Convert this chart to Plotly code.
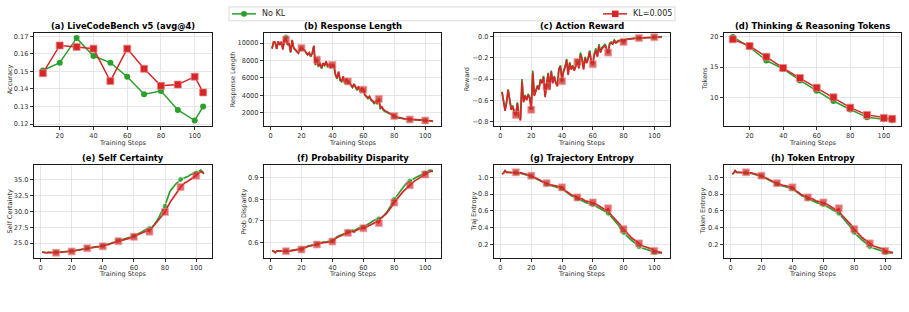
import plotly.graph_objects as go

W, H = 909, 312
GREEN = "#2ca02c"
RED = "#d62728"
FONT = "DejaVu Sans"

# ---------------- data ----------------
eval_steps = [10, 20, 30, 40, 50, 60, 70, 80, 90, 100, 105]
lcb_nokl = [0.1505, 0.155, 0.169, 0.1588, 0.155, 0.147, 0.137, 0.1388, 0.128, 0.122, 0.130]
lcb_kl = [0.149, 0.1648, 0.164, 0.163, 0.1445, 0.163, 0.1515, 0.1418, 0.1425, 0.147, 0.138]
tok_nokl = [20.0, 18.3, 16.1, 14.7, 12.8, 11.1, 9.4, 8.0, 6.7, 6.4, 6.2]
tok_kl = [19.6, 18.5, 16.7, 14.85, 13.2, 11.6, 10.0, 8.3, 7.1, 6.6, 6.45]

steps = list(range(1, 106))

resp_kl = [
    9350, 10150, 10100, 9300, 10200, 9800, 10150, 9250, 10450, 10400,
    9800, 10000, 8950, 10350, 9450, 9250, 9050, 8870, 9250, 9430,
    9300, 9200, 8900, 8680, 8900, 8480, 8850, 9700, 7550, 8100,
    7350, 7750, 7150, 7700, 7500, 7900, 7300, 7650, 7150, 7500,
    7450, 6400, 6000, 6750, 5800, 5650, 6200, 5450, 5950, 5600,
    5450, 5250, 4980, 5300, 4880, 4680, 5050, 4500, 4850, 4650,
    4100, 3900, 3720, 3900, 3530, 3400, 3150, 3350, 3080, 3600,
    2580, 2700, 2380, 2250, 2150, 2000, 1950, 1850, 1700, 1620,
    1550, 1500, 1430, 1420, 1380, 1340, 1330, 1250, 1260, 1240,
    1220, 1200, 1230, 1180, 1200, 1170, 1190, 1150, 1160, 1120,
    1130, 1150, 1100, 1080, 1000]
resp_nokl = [
    9400, 10100, 10050, 9350, 10150, 9850, 10100, 9300, 10400, 10700,
    9750, 9950, 8900, 10300, 9400, 9200, 9000, 8820, 9200, 9380,
    9250, 9150, 8850, 8630, 8850, 8430, 8800, 9650, 7450, 8000,
    7250, 7650, 7050, 7600, 7400, 7800, 7200, 7550, 7050, 7400,
    7350, 6300, 5900, 6650, 5700, 5550, 6100, 5350, 5850, 5500,
    5350, 5150, 4880, 5200, 4780, 4580, 4950, 4400, 4750, 4550,
    4000, 3800, 3620, 3800, 3430, 3300, 3050, 3250, 2980, 3400,
    2480, 2600, 2280, 2150, 2080, 1950, 1900, 1800, 1650, 1580,
    1520, 1470, 1400, 1400, 1360, 1320, 1310, 1240, 1250, 1230,
    1210, 1190, 1220, 1170, 1190, 1160, 1180, 1140, 1150, 1110,
    1120, 1140, 1090, 1070, 1000]

reward_kl = [
    -0.52, -0.60, -0.70, -0.62, -0.50, -0.60, -0.69, -0.66, -0.72, -0.74,
    -0.63, -0.75, -0.79, -0.42, -0.62, -0.56, -0.60, -0.55, -0.58, -0.69,
    -0.34, -0.56, -0.50, -0.47, -0.50, -0.41, -0.44, -0.38, -0.57, -0.47,
    -0.35, -0.50, -0.33, -0.44, -0.38, -0.44, -0.47, -0.31, -0.28, -0.42,
    -0.33, -0.29, -0.22, -0.36, -0.25, -0.31, -0.28, -0.32, -0.27, -0.24,
    -0.30, -0.17, -0.22, -0.31, -0.20, -0.25, -0.21, -0.14, -0.24, -0.26,
    -0.17, -0.13, -0.19, -0.09, -0.15, -0.11, -0.10, -0.08, -0.12, -0.15,
    -0.07, -0.06, -0.07, -0.04, -0.06, -0.05, -0.04, -0.04, -0.03, -0.05,
    -0.03, -0.025, -0.022, -0.02, -0.02, -0.018, -0.016, -0.015, -0.014, -0.013,
    -0.012, -0.011, -0.010, -0.010, -0.009, -0.008, -0.008, -0.007, -0.006, -0.005,
    -0.005, -0.004, -0.004, -0.003, -0.003]
reward_nokl = [
    -0.52, -0.60, -0.69, -0.61, -0.50, -0.59, -0.68, -0.65, -0.71, -0.73,
    -0.62, -0.74, -0.78, -0.40, -0.61, -0.55, -0.59, -0.54, -0.57, -0.67,
    -0.32, -0.55, -0.49, -0.46, -0.49, -0.40, -0.43, -0.37, -0.56, -0.46,
    -0.34, -0.49, -0.32, -0.43, -0.37, -0.43, -0.46, -0.30, -0.27, -0.41,
    -0.32, -0.28, -0.21, -0.35, -0.24, -0.30, -0.27, -0.31, -0.26, -0.23,
    -0.29, -0.15, -0.20, -0.30, -0.19, -0.24, -0.20, -0.13, -0.23, -0.25,
    -0.16, -0.11, -0.18, -0.07, -0.14, -0.10, -0.09, -0.07, -0.11, -0.14,
    -0.06, -0.05, -0.06, -0.03, -0.05, -0.04, -0.035, -0.035, -0.025, -0.045,
    -0.025, -0.022, -0.02, -0.018, -0.018, -0.016, -0.015, -0.014, -0.013, -0.012,
    -0.011, -0.010, -0.009, -0.009, -0.008, -0.007, -0.007, -0.006, -0.005, -0.004,
    -0.004, -0.003, -0.003, -0.003, -0.002]

cert_kl = [
    23.60, 23.55, 23.45, 23.50, 23.55, 23.50, 23.50, 23.55, 23.50, 23.50,
    23.55, 23.55, 23.60, 23.60, 23.60, 23.65, 23.65, 23.70, 23.70, 23.70,
    23.75, 23.80, 23.85, 23.90, 23.95, 24.00, 24.05, 24.10, 24.15, 24.20,
    24.25, 24.25, 24.30, 24.30, 24.35, 24.40, 24.40, 24.45, 24.50, 24.50,
    24.60, 24.70, 24.75, 24.80, 24.90, 24.95, 25.05, 25.15, 25.25, 25.30,
    25.40, 25.45, 25.50, 25.55, 25.60, 25.70, 25.75, 25.85, 25.95, 26.00,
    26.10, 26.20, 26.30, 26.40, 26.50, 26.60, 26.70, 26.85, 27.00, 26.80,
    27.30, 27.50, 27.80, 28.05, 28.30, 28.60, 28.90, 29.20, 29.50, 29.90,
    30.40, 30.90, 31.30, 31.70, 32.00, 32.40, 32.80, 33.20, 33.50, 33.80,
    34.10, 34.35, 34.50, 34.60, 34.80, 35.00, 35.20, 35.30, 35.45, 35.60,
    35.80, 36.00, 36.25, 36.10, 35.85]
cert_nokl = [
    23.60, 23.55, 23.50, 23.50, 23.55, 23.55, 23.50, 23.55, 23.55, 23.55,
    23.55, 23.60, 23.60, 23.65, 23.65, 23.70, 23.70, 23.70, 23.75, 23.75,
    23.80, 23.85, 23.90, 23.95, 24.00, 24.05, 24.10, 24.15, 24.20, 24.25,
    24.30, 24.30, 24.35, 24.35, 24.40, 24.45, 24.45, 24.50, 24.55, 24.60,
    24.65, 24.75, 24.80, 24.90, 24.95, 25.05, 25.15, 25.25, 25.35, 25.45,
    25.50, 25.55, 25.60, 25.65, 25.70, 25.80, 25.85, 25.95, 26.05, 26.15,
    26.25, 26.35, 26.50, 26.60, 26.75, 26.90, 27.05, 27.20, 27.30, 27.30,
    27.45, 27.60, 27.90, 28.20, 28.60, 29.00, 29.60, 30.00, 30.30, 30.80,
    31.60, 32.40, 33.00, 33.40, 33.80, 34.00, 34.30, 34.50, 34.80, 35.00,
    35.10, 35.20, 35.30, 35.30, 35.50, 35.70, 35.80, 35.90, 36.00, 36.00,
    36.20, 36.30, 36.45, 36.20, 36.00]

disp_kl = [
    0.563, 0.560, 0.553, 0.560, 0.561, 0.560, 0.559, 0.560, 0.559, 0.560,
    0.559, 0.560, 0.562, 0.563, 0.564, 0.565, 0.566, 0.567, 0.567, 0.568,
    0.572, 0.575, 0.579, 0.582, 0.584, 0.585, 0.586, 0.588, 0.590, 0.591,
    0.594, 0.597, 0.599, 0.600, 0.600, 0.601, 0.601, 0.602, 0.604, 0.605,
    0.612, 0.620, 0.624, 0.627, 0.630, 0.634, 0.638, 0.641, 0.643, 0.645,
    0.648, 0.651, 0.652, 0.648, 0.655, 0.660, 0.662, 0.664, 0.665, 0.666,
    0.668, 0.672, 0.676, 0.680, 0.684, 0.688, 0.692, 0.695, 0.698, 0.690,
    0.712, 0.718, 0.722, 0.728, 0.735, 0.744, 0.752, 0.762, 0.772, 0.785,
    0.795, 0.805, 0.815, 0.823, 0.830, 0.838, 0.845, 0.852, 0.858, 0.865,
    0.872, 0.878, 0.884, 0.889, 0.894, 0.898, 0.902, 0.906, 0.910, 0.915,
    0.920, 0.925, 0.928, 0.930, 0.930]
disp_nokl = [
    0.563, 0.561, 0.555, 0.561, 0.562, 0.561, 0.560, 0.561, 0.560, 0.561,
    0.560, 0.561, 0.563, 0.564, 0.565, 0.566, 0.567, 0.568, 0.568, 0.569,
    0.573, 0.577, 0.581, 0.584, 0.586, 0.587, 0.588, 0.590, 0.592, 0.593,
    0.596, 0.599, 0.601, 0.602, 0.602, 0.603, 0.603, 0.604, 0.606, 0.608,
    0.615, 0.623, 0.627, 0.630, 0.633, 0.637, 0.641, 0.645, 0.648, 0.650,
    0.653, 0.656, 0.657, 0.655, 0.660, 0.665, 0.667, 0.669, 0.670, 0.672,
    0.675, 0.680, 0.685, 0.690, 0.695, 0.700, 0.705, 0.708, 0.710, 0.710,
    0.712, 0.715, 0.722, 0.730, 0.740, 0.750, 0.760, 0.772, 0.786, 0.800,
    0.810, 0.820, 0.832, 0.842, 0.852, 0.860, 0.867, 0.875, 0.880, 0.885,
    0.889, 0.893, 0.897, 0.901, 0.905, 0.908, 0.911, 0.915, 0.918, 0.922,
    0.926, 0.932, 0.935, 0.934, 0.932]

traj_ent_kl = [
    1.04, 1.05, 1.08, 1.06, 1.06, 1.06, 1.055, 1.055, 1.055, 1.06,
    1.055, 1.05, 1.055, 1.05, 1.04, 1.04, 1.035, 1.03, 1.025, 1.02,
    1.01, 1.00, 0.99, 0.98, 0.97, 0.96, 0.955, 0.945, 0.935, 0.93,
    0.92, 0.915, 0.91, 0.905, 0.90, 0.895, 0.89, 0.885, 0.88, 0.88,
    0.86, 0.84, 0.83, 0.82, 0.80, 0.79, 0.785, 0.78, 0.77, 0.76,
    0.75, 0.74, 0.745, 0.73, 0.72, 0.715, 0.71, 0.705, 0.70, 0.70,
    0.69, 0.68, 0.67, 0.66, 0.655, 0.64, 0.625, 0.61, 0.60, 0.63,
    0.57, 0.55, 0.53, 0.51, 0.50, 0.48, 0.455, 0.43, 0.40, 0.38,
    0.35, 0.33, 0.31, 0.295, 0.28, 0.265, 0.25, 0.235, 0.22, 0.21,
    0.195, 0.185, 0.175, 0.17, 0.165, 0.16, 0.155, 0.15, 0.14, 0.12,
    0.115, 0.11, 0.105, 0.10, 0.10]
traj_ent_nokl = [
    1.04, 1.05, 1.08, 1.06, 1.06, 1.06, 1.055, 1.055, 1.05, 1.055,
    1.05, 1.045, 1.05, 1.045, 1.035, 1.035, 1.03, 1.025, 1.02, 1.015,
    1.005, 0.995, 0.985, 0.975, 0.965, 0.955, 0.945, 0.935, 0.925, 0.92,
    0.91, 0.905, 0.90, 0.895, 0.89, 0.885, 0.88, 0.875, 0.87, 0.865,
    0.85, 0.83, 0.82, 0.81, 0.79, 0.78, 0.775, 0.765, 0.755, 0.745,
    0.735, 0.725, 0.72, 0.71, 0.70, 0.695, 0.69, 0.685, 0.68, 0.675,
    0.665, 0.655, 0.645, 0.635, 0.62, 0.61, 0.60, 0.59, 0.58, 0.57,
    0.55, 0.53, 0.51, 0.49, 0.47, 0.45, 0.42, 0.39, 0.36, 0.34,
    0.32, 0.30, 0.28, 0.265, 0.25, 0.235, 0.22, 0.20, 0.185, 0.17,
    0.165, 0.155, 0.15, 0.145, 0.14, 0.135, 0.13, 0.12, 0.11, 0.10,
    0.10, 0.095, 0.095, 0.095, 0.095]

tokent_kl = list(traj_ent_kl)
tokent_nokl = list(traj_ent_nokl)

# ---------------- layout geometry (pixels) ----------------
cols = [(34, 212), (264, 441), (494, 670), (724, 901)]
rows = [(33, 127), (167, 260)]


def xd(a, b):
    return [a / W, b / W]


def yd(top, bot):
    return [1 - bot / H, 1 - top / H]


panels = [
    ("(a) LiveCodeBench v5 (avg@4)", "Accuracy", eval_steps, lcb_nokl, lcb_kl, False,
     [0.1190, 0.1721], [0.12, 0.13, 0.14, 0.15, 0.16, 0.17], ".2f", [4.75, 110.25], [20, 40, 60, 80, 100]),
    ("(b) Response Length", "Response Length", steps, resp_nokl, resp_kl, True,
     [515, 11185], [2000, 4000, 6000, 8000, 10000], "d", [-4.2, 110.2], [0, 20, 40, 60, 80, 100]),
    ("(c) Action Reward", "Reward", steps, reward_nokl, reward_kl, True,
     [-0.841, 0.038], [-0.8, -0.6, -0.4, -0.2, 0.0], ".1f", [-4.2, 110.2], [0, 20, 40, 60, 80, 100]),
    ("(d) Thinking & Reasoning Tokens", "Tokens", eval_steps, tok_nokl, tok_kl, False,
     [5.3, 20.7], [10, 15, 20], "d", [4.75, 110.25], [20, 40, 60, 80, 100]),
    ("(e) Self Certainty", "Self Certainty", steps, cert_nokl, cert_kl, True,
     [22.75, 37.2], [25.0, 27.5, 30.0, 32.5, 35.0], ".1f", [-4.2, 110.2], [0, 20, 40, 60, 80, 100]),
    ("(f) Probability Disparity", "Prob Disparity", steps, disp_nokl, disp_kl, True,
     [0.531, 0.957], [0.6, 0.7, 0.8, 0.9], ".1f", [-4.2, 110.2], [0, 20, 40, 60, 80, 100]),
    ("(g) Trajectory Entropy", "Traj Entropy", steps, traj_ent_nokl, traj_ent_kl, True,
     [0.041, 1.143], [0.2, 0.4, 0.6, 0.8, 1.0], ".1f", [-4.2, 110.2], [0, 20, 40, 60, 80, 100]),
    ("(h) Token Entropy", "Token Entropy", steps, tokent_nokl, tokent_kl, True,
     [0.041, 1.143], [0.2, 0.4, 0.6, 0.8, 1.0], ".1f", [-4.2, 110.2], [0, 20, 40, 60, 80, 100]),
]

ylabel_x = [10, 233, 467, 705, 10, 244, 474, 703]

fig = go.Figure()
layout = dict(
    width=W, height=H, margin=dict(l=0, r=0, t=0, b=0),
    paper_bgcolor="white", plot_bgcolor="white",
    showlegend=False, font=dict(family=FONT, color="#262626"),
)
annotations = []
shapes = []

for i, (title, ylab, xs, g, r, dense, yr, yt, yfmt, xr, xt) in enumerate(panels):
    ri, ci = divmod(i, 4)
    (cl, cr), (rt, rb) = cols[ci], rows[ri]
    n = i + 1
    xa = "x" if n == 1 else f"x{n}"
    ya = "y" if n == 1 else f"y{n}"
    xkey = "xaxis" if n == 1 else f"xaxis{n}"
    ykey = "yaxis" if n == 1 else f"yaxis{n}"
    common = dict(showline=True, linecolor="#1a1a1a", linewidth=1.4, mirror=True,
                  ticks="outside", ticklen=3, tickwidth=0.8, tickcolor="#333",
                  showgrid=True, gridcolor="#e6e6e6", gridwidth=0.8, zeroline=False,
                  tickfont=dict(size=6.6, family=FONT, color="#333"))
    layout[xkey] = dict(domain=xd(cl, cr), anchor=ya, range=xr, tickvals=xt, **common)
    ytxt = [format(v, yfmt) if yfmt != "d" else str(int(v)) for v in yt]
    ytxt = [t.replace("-", "\u2212") for t in ytxt]
    layout[ykey] = dict(domain=yd(rt, rb), anchor=xa, range=yr, tickvals=yt, ticktext=ytxt, **common)

    if dense:
        gs = [6 if s % 10 == 0 else 0 for s in xs]
        rs = [7 if s % 10 == 0 else 0 for s in xs]
        lw = 1.7
    else:
        gs, rs, lw = 6, 7, 1.5
    fig.add_trace(go.Scatter(x=xs, y=g, xaxis=xa, yaxis=ya, mode="lines+markers",
                             line=dict(color=GREEN, width=lw),
                             marker=dict(symbol="circle", size=gs, color=GREEN),
                             name="No KL"))
    fig.add_trace(go.Scatter(x=xs, y=r, xaxis=xa, yaxis=ya, mode="lines+markers",
                             line=dict(color=RED, width=lw),
                             marker=dict(symbol="square", size=rs, color=RED,
                                         line=dict(color="rgba(240,130,130,0.9)", width=0.8)),
                             name="KL=0.005"))
    annotations.append(dict(text=f"<b>{title}</b>", x=(cl + cr) / 2 / W, y=1 - (rt - 7) / H,
                            xref="paper", yref="paper", xanchor="center", yanchor="middle",
                            showarrow=False, font=dict(size=8.4, family=FONT, color="black")))
    annotations.append(dict(text="Training Steps", x=(cl + cr) / 2 / W, y=1 - (rb + 17) / H,
                            xref="paper", yref="paper", xanchor="center", yanchor="middle",
                            showarrow=False, font=dict(size=6.5, family=FONT, color="#333")))
    annotations.append(dict(text=ylab, x=ylabel_x[i] / W, y=1 - (rt + rb) / 2 / H,
                            xref="paper", yref="paper", xanchor="center", yanchor="middle",
                            textangle=-90, showarrow=False,
                            font=dict(size=6.5, family=FONT, color="#333")))

# manual legend (matplotlib expand-mode legend across top)
lx0, lx1, ly0, ly1 = 229, 675, 7, 21
shapes.append(dict(type="rect", xref="paper", yref="paper",
                   x0=lx0 / W, x1=lx1 / W, y0=1 - ly1 / H, y1=1 - ly0 / H,
                   line=dict(color="#d0d0d0", width=0.8), fillcolor="white"))
ym = 1 - 14 / H
shapes.append(dict(type="line", xref="paper", yref="paper", x0=232 / W, x1=256 / W, y0=ym, y1=ym,
                   line=dict(color=GREEN, width=1.5)))
shapes.append(dict(type="circle", xref="paper", yref="paper", x0=241 / W, x1=247 / W,
                   y0=1 - 17 / H, y1=1 - 11 / H, line=dict(color=GREEN, width=0), fillcolor=GREEN))
shapes.append(dict(type="line", xref="paper", yref="paper", x0=603 / W, x1=627 / W, y0=ym, y1=ym,
                   line=dict(color=RED, width=1.5)))
shapes.append(dict(type="rect", xref="paper", yref="paper", x0=612 / W, x1=618.5 / W,
                   y0=1 - 17.3 / H, y1=1 - 10.7 / H, line=dict(color=RED, width=0), fillcolor=RED))
annotations.append(dict(text="No KL", x=260 / W, y=ym, xref="paper", yref="paper",
                        xanchor="left", yanchor="middle", showarrow=False,
                        font=dict(size=8, family=FONT, color="#262626")))
annotations.append(dict(text="KL=0.005", x=631 / W, y=ym, xref="paper", yref="paper",
                        xanchor="left", yanchor="middle", showarrow=False,
                        font=dict(size=8, family=FONT, color="#262626")))

layout["annotations"] = annotations
layout["shapes"] = shapes
fig.update_layout(**layout)
fig.write_html("out.html")
